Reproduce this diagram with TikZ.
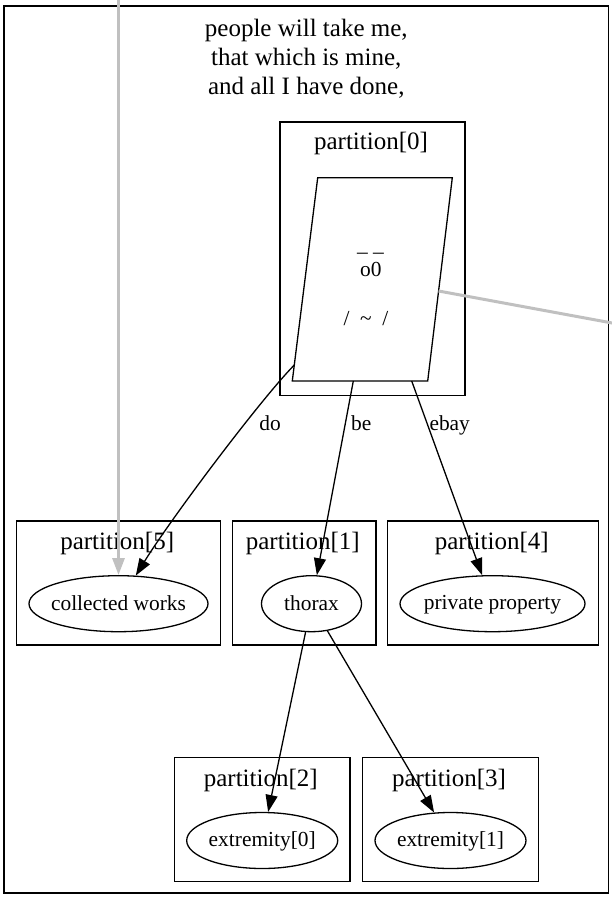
\documentclass[tikz,border=0pt]{standalone}
\usepackage{fontspec}
\setmainfont{Liberation Serif}
\usetikzlibrary{shapes.geometric,arrows.meta}
\definecolor{edgegray}{HTML}{C0C0C0}
\newcommand\mylab[1]{\makebox[0pt]{\rule[-0.2em]{0pt}{1em}#1}}
\begin{document}
\begin{tikzpicture}[x=1pt,y=-1pt,
  box/.style={draw, line width=1.3pt},
  clab/.style={font=\fontsize{25}{29}\selectfont, inner sep=0pt},
  nlab/.style={font=\fontsize{21.4}{25}\selectfont, inner sep=0pt},
  oval/.style={draw, ellipse, line width=1.3pt, inner sep=0pt, minimum height=56pt, font=\fontsize{21.4}{25}\selectfont},
  edge/.style={draw, line width=1.3pt, -{Triangle[length=17pt,width=12pt]}},
  ghost/.style={draw=edgegray, line width=3pt},
]
\useasboundingbox (0,0) rectangle (612,897);
\clip (0,0) rectangle (612,897);
% outer frame
\draw[box] (4,6) rectangle (608.5,893);
% title
\node[clab, anchor=base] (t1) at (306.3,36) {people will take me,};
\node[clab, anchor=base] (t2) at (306.3,65) {that which is mine,};
\node[clab, anchor=base] (t3) at (306.3,94) {and all I have done,};
% clusters
\draw[box] (280,122) rectangle (465,395.5);
\node[clab, anchor=base] (l0) at (371,149.5) {partition[0]};
\draw[box] (16.7,521) rectangle (220.7,645);
\node[clab, anchor=base] (l5) at (117.2,549.5) {partition[5]};
\draw[box] (232.7,521) rectangle (376,645);
\node[clab, anchor=base] (l1) at (302.8,549.5) {partition[1]};
\draw[box] (387.7,521) rectangle (598.7,645);
\node[clab, anchor=base] (l4) at (491.7,549.5) {partition[4]};
\draw[box] (174.7,757.3) rectangle (350,881.3);
\node[clab, anchor=base] (l2) at (260.8,786) {partition[2]};
\draw[box] (362.7,757.3) rectangle (538.3,881.3);
\node[clab, anchor=base] (l3) at (449,786) {partition[3]};
% parallelogram node
\coordinate (pa) at (317.7,177.7);
\coordinate (pb) at (452.3,177.7);
\coordinate (pc) at (427.7,381);
\coordinate (pd) at (292.3,381);
\draw[box] (pa) -- (pb) -- (pc) -- (pd) -- cycle;
\node[nlab] (f1) at (370.5,252.7) {\_ \_};
\node[nlab] (f2) at (370.8,269.5) {o0};
\node[nlab] (f3) at (366,318.3) {/\ \ \textasciitilde\ \ /};
\coordinate (pdo) at (294.3,365);
\coordinate (pbe) at (353.3,381);
\coordinate (pebay) at (411.7,381);
\coordinate (pgray) at (438.6,291);
% ellipse nodes
\node[oval, minimum width=179pt] (cw) at (118.5,603.7) {\mylab{collected works}};
\node[oval, minimum width=100pt] (thorax) at (311.5,603.7) {\mylab{thorax}};
\node[oval, minimum width=185pt] (pp) at (492.5,603.7) {\mylab{private property}};
\node[oval, minimum width=151pt] (e0) at (262.2,840.5) {\mylab{extremity[0]}};
\node[oval, minimum width=151pt] (e1) at (450.5,840.5) {\mylab{extremity[1]}};
% edges
\draw[edge] (pdo) .. controls (260,400) and (170,520) .. (cw);
\draw[edge] (pbe) -- (thorax);
\draw[edge] (pebay) -- (pp);
\draw[edge] (thorax) -- (e0);
\draw[edge] (thorax) -- (e1);
\coordinate (gtop) at (118.5,-20);
\draw[ghost, -{Triangle[length=17pt,width=12pt]}] (gtop) -- (cw);
\coordinate (gright) at (700,339.2);
\draw[ghost] (pgray) -- (gright);
% edge labels
\node[nlab, anchor=base] (ldo) at (270,430) {do};
\node[nlab, anchor=base] (lbe) at (361.2,430) {be};
\node[nlab, anchor=base] (lebay) at (449.7,430) {ebay};
\end{tikzpicture}
\end{document}
